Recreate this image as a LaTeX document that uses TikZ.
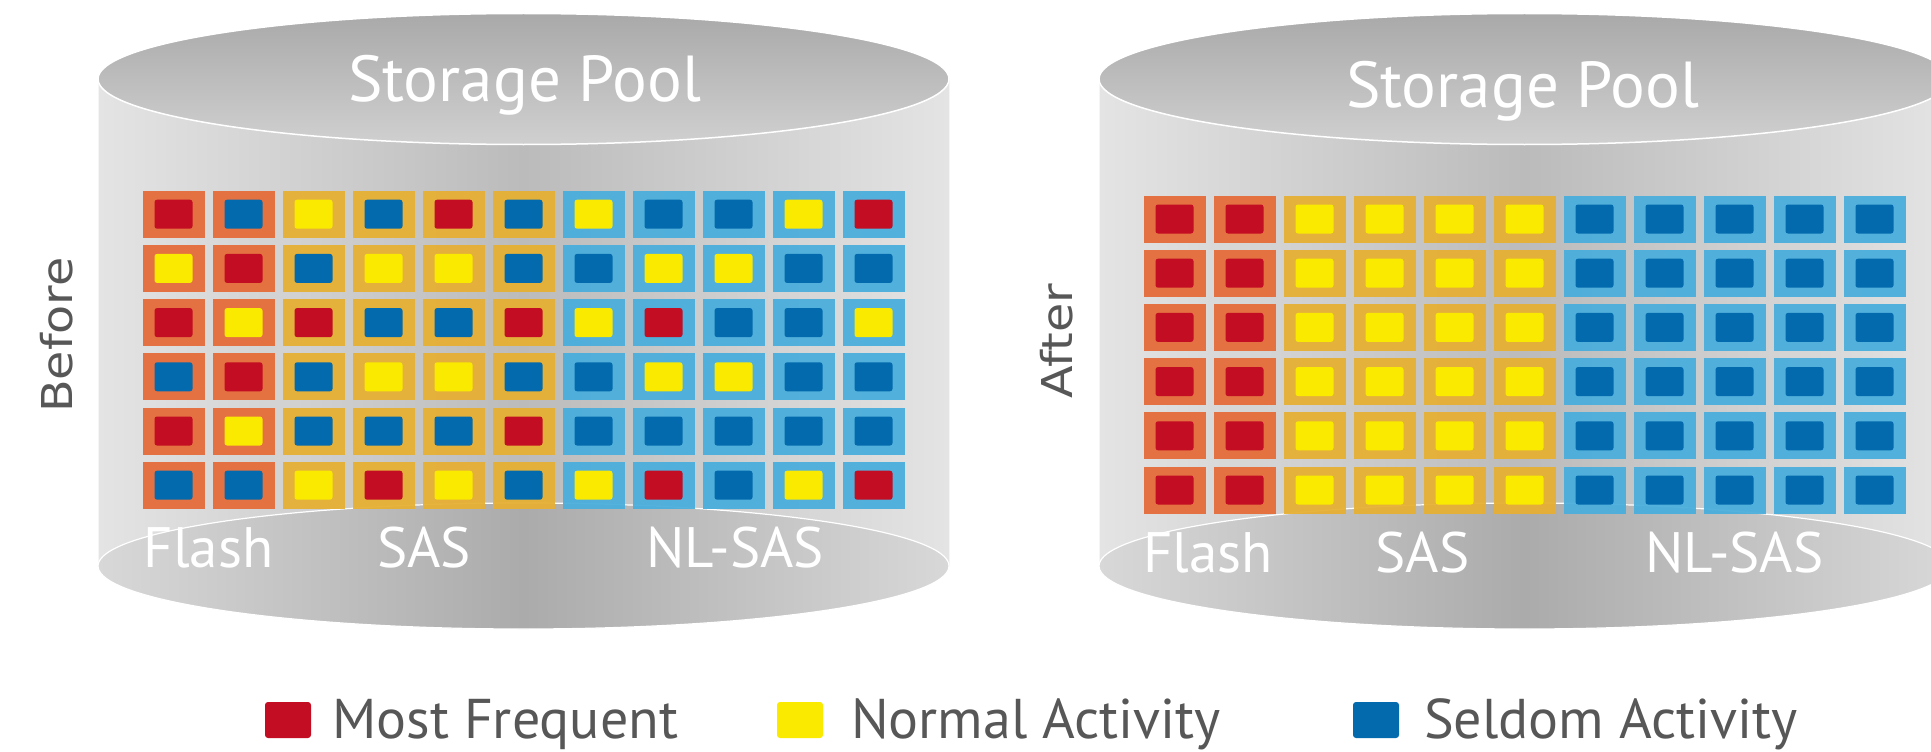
\documentclass[tikz,border=0pt]{standalone}
\usepackage{graphicx}
\usepackage{fontspec}
\setmainfont{PT Sans}
\newfontfamily\sideFont{DejaVu Sans}
\definecolor{flashC}{HTML}{E56C39}
\definecolor{sasC}{HTML}{E6B034}
\definecolor{nlC}{HTML}{4BAEDC}
\definecolor{cR}{HTML}{C30D23}
\definecolor{cY}{HTML}{F9EA00}
\definecolor{cB}{HTML}{036AAD}
\definecolor{txtC}{HTML}{575757}
\definecolor{bodyL}{HTML}{E4E4E4}
\definecolor{bodyM}{HTML}{BBBBBB}
\definecolor{topT}{HTML}{A9A9A9}
\definecolor{topB}{HTML}{D0D0D0}
\definecolor{botL}{HTML}{D8D8D8}
\definecolor{botM}{HTML}{ABABAB}
\newcommand\drawPoolPanel[3]{%
  % #1 = centre x, #2 = grid top, #3 = rows
  \path[left color=bodyL, right color=bodyL, middle color=bodyM]
    (#1-425.5,79) rectangle (#1+425.5,566);
  \draw[white!92!gray, line width=1] (#1-425.5,79) -- (#1-425.5,566);
  \draw[white!92!gray, line width=1] (#1+425.5,79) -- (#1+425.5,566);
  \path[draw=white, line width=1.2, left color=botL, right color=botL, middle color=botM]
    (#1,566) ellipse [x radius=425.5, y radius=63];
  \path[draw=white, line width=1.5, top color=topT, bottom color=topB]
    (#1,79) ellipse [x radius=425.5, y radius=65.5];
  \foreach \rowlist [count=\r from 0] in {#3} {
    \foreach \cc [count=\k from 0] in \rowlist {
      \ifnum\k<2 \def\oc{flashC}\else\ifnum\k<6 \def\oc{sasC}\else\def\oc{nlC}\fi\fi
      \fill[\oc, fill opacity=0.95] (#1-381+\k*70, #2+\r*54.2) rectangle ++(62,47);
      \fill[c\cc, rounded corners=2.5] (#1-381+\k*70+12, #2+\r*54.2+9) rectangle ++(38,29);
    }
  }
}
\begin{document}
\begin{tikzpicture}[x=1pt, y=-1pt,
  poolTxt/.style={text=white, font=\fontsize{65}{70}\selectfont, inner sep=0pt},
  tierTxt/.style={text=white, font=\fontsize{57}{60}\selectfont, inner sep=0pt, anchor=base},
  sideTxt/.style={text=txtC, font=\sideFont\fontsize{42.5}{46}\selectfont, inner sep=0pt, rotate=90},
  legTxt/.style={text=txtC, font=\fontsize{56}{60}\selectfont, inner sep=0pt, anchor=base west},
  legBox/.style={rounded corners=3}]
\useasboundingbox (0,0) rectangle (1931,752);
\clip (0,0) rectangle (1931,752);
\fill[white] (0,0) rectangle (1931,752);

% Before panel
\drawPoolPanel{523.5}{190.7}{{R,B,Y,B,R,B,Y,B,B,Y,R},{Y,R,B,Y,Y,B,B,Y,Y,B,B},{R,Y,R,B,B,R,Y,R,B,B,Y},{B,R,B,Y,Y,B,B,Y,Y,B,B},{R,Y,B,B,B,R,B,B,B,B,B},{B,B,Y,R,Y,B,Y,R,B,Y,R}}
\node[poolTxt, anchor=base] (poolL) at (524.5,101) {Storage Pool};
\node[tierTxt] (flashL) at (208.5,567) {Flash};
\node[tierTxt] (sasL) at (424,567) {SAS};
\node[tierTxt] (nlL) at (735,567) {NL-SAS};
\node[sideTxt] (before) at (57,335) {\scalebox{1.12}[1]{Before}};

% After panel
\drawPoolPanel{1524.5}{195.5}{{R,R,Y,Y,Y,Y,B,B,B,B,B},{R,R,Y,Y,Y,Y,B,B,B,B,B},{R,R,Y,Y,Y,Y,B,B,B,B,B},{R,R,Y,Y,Y,Y,B,B,B,B,B},{R,R,Y,Y,Y,Y,B,B,B,B,B},{R,R,Y,Y,Y,Y,B,B,B,B,B}}
\node[poolTxt, anchor=base] (poolR) at (1522.5,107) {Storage Pool};
\node[tierTxt] (flashR) at (1208,572) {Flash};
\node[tierTxt] (sasR) at (1422.5,572) {SAS};
\node[tierTxt] (nlR) at (1734.5,572) {NL-SAS};
\node[sideTxt] (after) at (1057,341) {\scalebox{1.12}[1]{After}};

% Legend
\fill[cR, legBox] (265,702) rectangle (311,738);
\node[legTxt] (legR) at (332,738) {Most Frequent};
\fill[cY, legBox] (777,702) rectangle (823,738);
\node[legTxt] (legY) at (851,738) {Normal Activity};
\fill[cB, legBox] (1353,702) rectangle (1399,738);
\node[legTxt] (legB) at (1424,738) {Seldom Activity};
\end{tikzpicture}
\end{document}
